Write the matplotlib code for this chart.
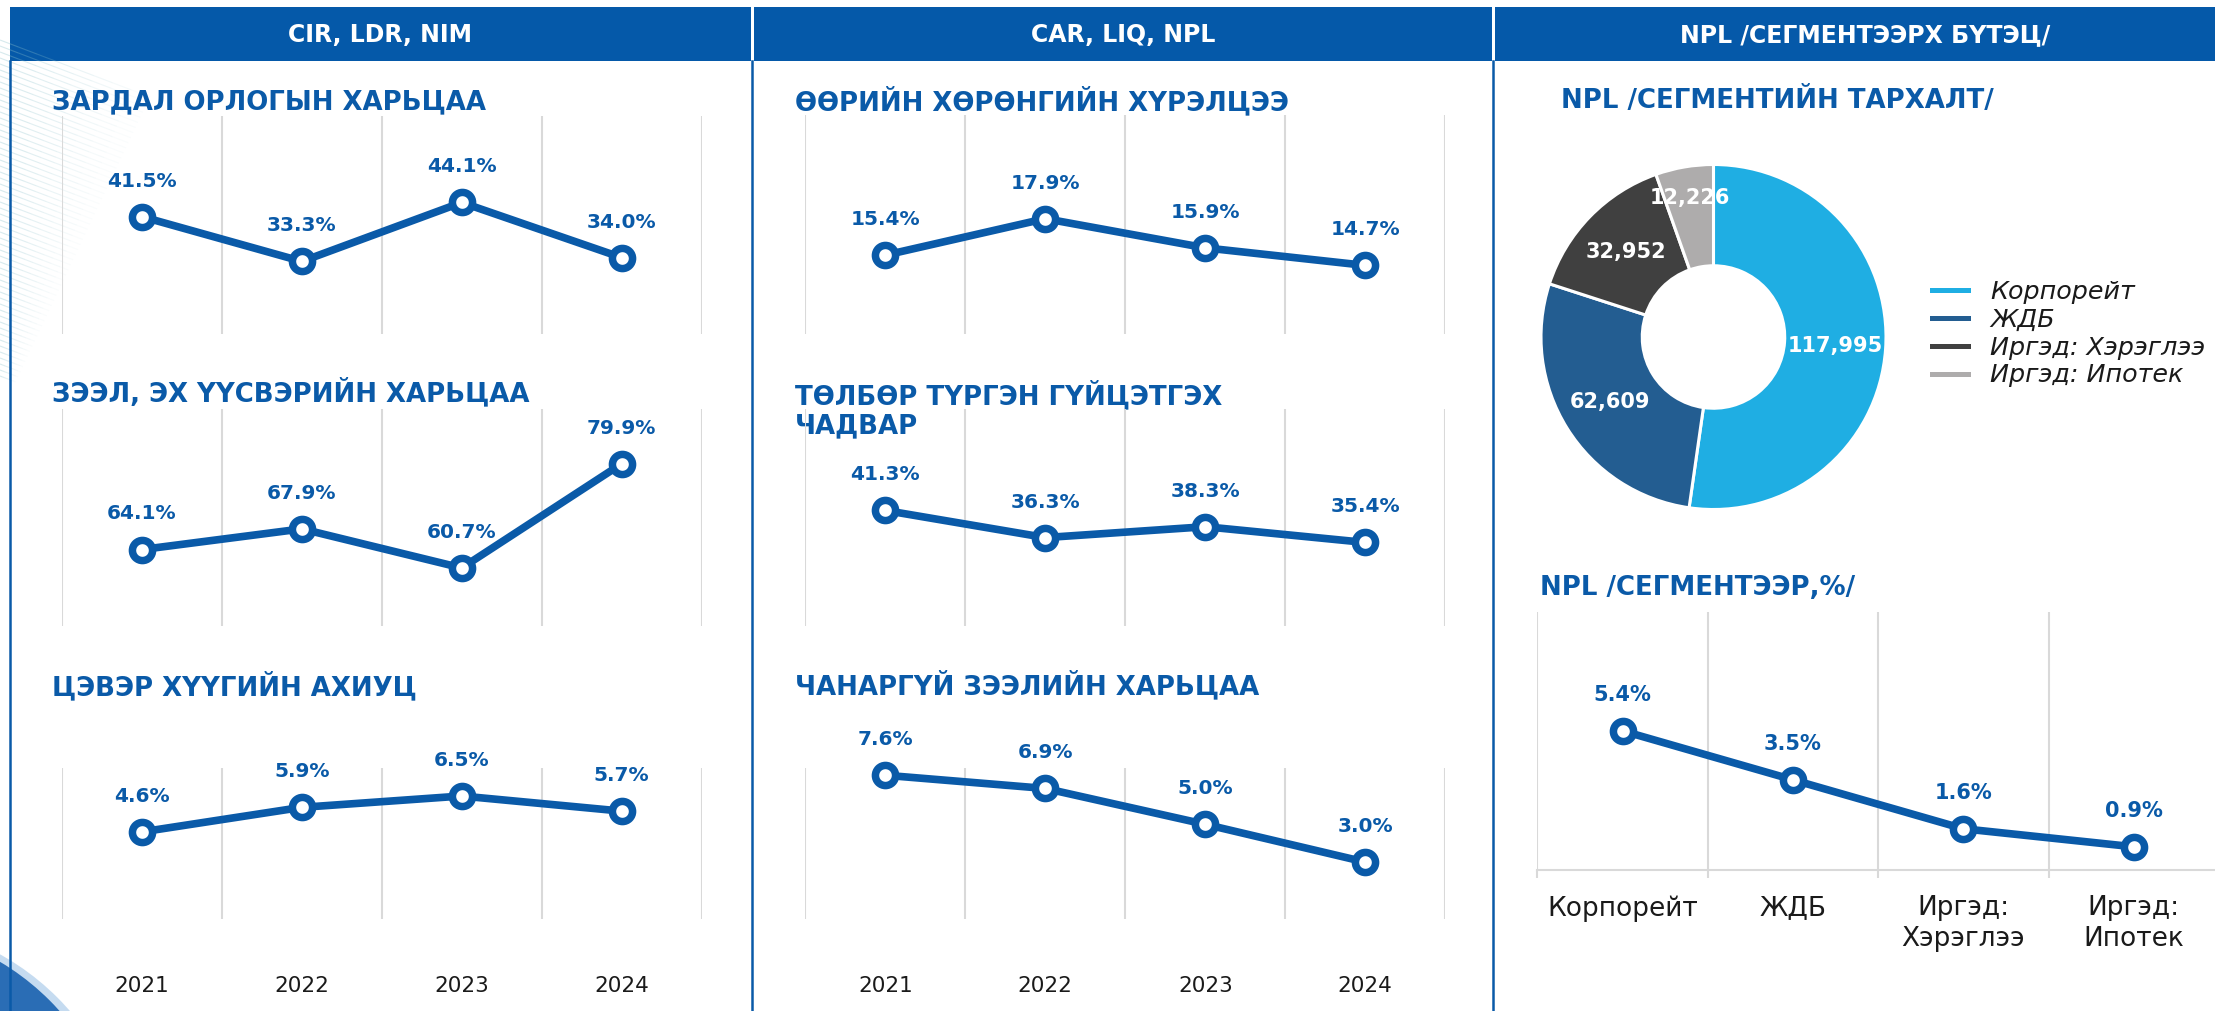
import numpy as np
import matplotlib.pyplot as plt
from matplotlib.lines import Line2D
from matplotlib.patches import Rectangle, Circle
from matplotlib.collections import LineCollection

plt.rcParams['font.family'] = ['DejaVu Sans']

# chart data
years = ['2021', '2022', '2023', '2024']
cir = [41.5, 33.3, 44.1, 34.0]
ldr = [64.1, 67.9, 60.7, 79.9]
nim = [4.6, 5.9, 6.5, 5.7]
car = [15.4, 17.9, 15.9, 14.7]
liq = [41.3, 36.3, 38.3, 35.4]
npl = [7.6, 6.9, 5.0, 3.0]

segments = ['Корпорейт', 'ЖДБ', 'Иргэд: Хэрэглээ', 'Иргэд: Ипотек']
segment_ticks = ['Корпорейт', 'ЖДБ', 'Иргэд:\nХэрэглээ', 'Иргэд:\nИпотек']
npl_amount = [117995, 62609, 32952, 12226]
npl_rate = [5.4, 3.5, 1.6, 0.9]

section_titles = ['CIR, LDR, NIM', 'CAR, LIQ, NPL', 'NPL /СЕГМЕНТЭЭРХ БҮТЭЦ/']

BLUE = '#0A5AA8'
HEADER = '#0559A9'
GRID = '#D9D9D9'
SEG_COLORS = ['#1FAEE3', '#235D91', '#404040', '#AEACAC']

W, H = 2215, 1011
fig = plt.figure(figsize=(W / 100, H / 100), dpi=100)


def px_axes(x0, y0, x1, y1):
    # axes placed by pixel box (top-left origin)
    return fig.add_axes([x0 / W, 1 - y1 / H, (x1 - x0) / W, (y1 - y0) / H])


# background layer in pixel coordinates
bg = fig.add_axes([0, 0, 1, 1], zorder=0)
bg.set_xlim(0, W)
bg.set_ylim(H, 0)
bg.axis('off')

# faint diagonal hatch decoration at top left
segs, cols = [], []
for y in np.arange(40, 380, 6):
    xmax = 150 - (y - 40) * 0.4
    if xmax <= 0:
        continue
    xs = np.linspace(0, xmax, 9)
    for a, b in zip(xs[:-1], xs[1:]):
        segs.append([(a, y + 0.38 * a), (b, y + 0.38 * b)])
        cols.append((0.55, 0.76, 0.80, 0.35 * (1 - a / xmax)))
bg.add_collection(LineCollection(segs, colors=cols, linewidths=0.8))

# blue blob bottom left
bg.add_patch(Circle((-125, 1180), 258, color='#8DB9E2', alpha=0.5, lw=0))
bg.add_patch(Circle((-130, 1180), 254, color='#2A6DB5', lw=0))

# header bands
bands = [(10, 751), (754, 1492), (1495, W)]
centers = [380.5, 1123.5, 1865]
for (a, b), cx, t in zip(bands, centers, section_titles):
    bg.add_patch(Rectangle((a, 7), b - a, 54, color=HEADER, lw=0))
    bg.text(cx, 35, t, color='white', fontsize=17, fontweight='bold', ha='center', va='center')

# column borders
for x in [10, 752.5, 1493.5]:
    bg.plot([x, x], [61, H], color=BLUE, lw=1.8)

# chart titles
titles = [
    (52, 102, 'ЗАРДАЛ ОРЛОГЫН ХАРЬЦАА'),
    (52, 393, 'ЗЭЭЛ, ЭХ ҮҮСВЭРИЙН ХАРЬЦАА'),
    (52, 687, 'ЦЭВЭР ХҮҮГИЙН АХИУЦ'),
    (795, 102, 'ӨӨРИЙН ХӨРӨНГИЙН ХҮРЭЛЦЭЭ'),
    (795, 410.5, 'ТӨЛБӨР ТҮРГЭН ГҮЙЦЭТГЭХ\nЧАДВАР'),
    (795, 686, 'ЧАНАРГҮЙ ЗЭЭЛИЙН ХАРЬЦАА'),
    (1561, 100, 'NPL /СЕГМЕНТИЙН ТАРХАЛТ/'),
    (1540, 588, 'NPL /СЕГМЕНТЭЭР,%/'),
]
for x, y, t in titles:
    bg.text(x, y, t, color=BLUE, fontsize=18.7, fontweight='bold', ha='left', va='center',
            linespacing=1.15, zorder=5)


def line_chart(box, values, ylim, labels=None, label_off=25.6, label_size=14.5,
               axis_line=False, pad=41, tick_size=15.5):
    ax = px_axes(*box)
    ax.patch.set_alpha(0)
    n = len(values)
    xs = np.arange(n)
    ax.plot(xs, values, color=BLUE, lw=5.5, marker='o', ms=14.5, mew=5.4,
            mfc='white', mec=BLUE, zorder=3, clip_on=False)
    for x, v in zip(xs, values):
        ax.annotate(f'{v:.1f}%', (x, v), xytext=(0, label_off), textcoords='offset points',
                    ha='center', va='center', fontsize=label_size, fontweight='bold', color=BLUE)
    ax.set_xlim(-0.5, n - 0.5)
    ax.set_ylim(*ylim)
    ax.set_yticks([])
    ax.set_xticks(np.arange(n + 1) - 0.5, minor=True)
    ax.grid(which='minor', axis='x', color=GRID, lw=1.5)
    for s in ax.spines.values():
        s.set_visible(False)
    ax.tick_params(which='minor', length=0)
    if labels is not None:
        ax.set_xticks(xs, labels)
        ax.tick_params(which='major', length=0, pad=pad, labelsize=tick_size, labelcolor='#1a1a1a')
    else:
        ax.set_xticks([])
    if axis_line:
        ax.spines['bottom'].set_visible(True)
        ax.spines['bottom'].set_color(GRID)
        ax.spines['bottom'].set_linewidth(1.5)
        ax.tick_params(which='minor', length=5.8, width=1.5, color=GRID, direction='out')
    return ax


left = (62, 701.6)
mid = (805.3, 1445.3)
line_chart((left[0], 115.7, left[1], 334), cir, (20, 60))
line_chart((left[0], 409, left[1], 626), ldr, (50, 90))
line_chart((left[0], 767.7, left[1], 918.7), nim, (0, 8), labels=years)
line_chart((mid[0], 115, mid[1], 334), car, (10, 25))
line_chart((mid[0], 409, mid[1], 626), liq, (20, 60))
line_chart((mid[0], 767.7, mid[1], 918.7), npl, (0, 8), labels=years)
seg_ax = line_chart((1537.3, 612.3, 2219, 870), npl_rate, (0, 10), labels=segment_ticks,
                    label_off=26, label_size=15, axis_line=True, pad=18, tick_size=19)
for t in seg_ax.get_xticklabels():
    t.set_linespacing(1.25)

# donut chart
cx, cy, r = 1713.5, 337, 172.5
dax = px_axes(cx - 180, cy - 180, cx + 180, cy + 180)
total = sum(npl_amount)
wedges, texts, autotexts = dax.pie(
    npl_amount, colors=SEG_COLORS, startangle=90, counterclock=False, radius=1,
    wedgeprops=dict(width=0.587, edgecolor='white', linewidth=2.2),
    autopct=lambda p: f'{p * total / 100:,.0f}', pctdistance=0.707,
    textprops=dict(color='white', fontsize=15, fontweight='bold'))
lim = 180 / r
dax.set_xlim(-lim, lim)
dax.set_ylim(-lim, lim)
px_, py_ = autotexts[3].get_position()
autotexts[3].set_position((px_ * 0.82 / 0.707, py_ * 0.82 / 0.707))

handles = [Line2D([], [], color=c, lw=3.6) for c in SEG_COLORS]
fig.legend(handles, segments, loc='upper left', bbox_to_anchor=(1932 / W, 1 - 280 / H),
           frameon=False, prop=dict(style='italic', size=18.3), labelcolor='#1a1a1a',
           handlelength=1.42, handletextpad=0.86, labelspacing=0.15,
           borderpad=0, borderaxespad=0)

fig.savefig('out.png', dpi=100)
